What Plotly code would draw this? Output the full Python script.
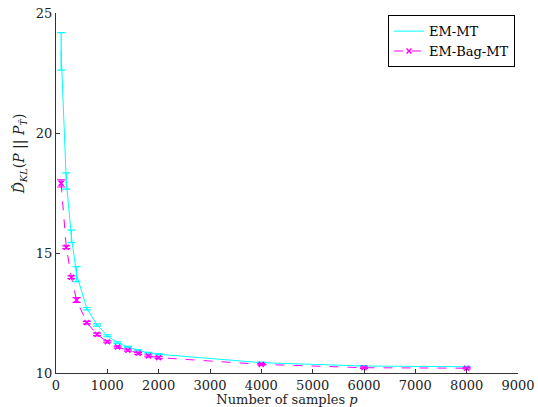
import plotly.graph_objects as go

samples = [100, 200, 300, 400, 600, 800, 1000, 1200, 1400, 1600, 1800, 2000, 4000, 6000, 8000]
em_mt = [23.4, 18.0, 15.69, 14.12, 12.68, 12.0, 11.55, 11.26, 11.08, 10.95, 10.83, 10.78, 10.43, 10.29, 10.26]
em_mt_err = [0.78, 0.34, 0.26, 0.31, 0.05, 0.05, 0.04, 0.04, 0.03, 0.03, 0.03, 0.03, 0.02, 0.02, 0.02]
em_bag_mt = [17.9, 15.24, 13.99, 13.04, 12.1, 11.61, 11.30, 11.08, 10.95, 10.82, 10.71, 10.64, 10.36, 10.22, 10.2]
em_bag_mt_err = [0.15, 0.06, 0.06, 0.1, 0.05, 0.05, 0.04, 0.04, 0.04, 0.04, 0.04, 0.04, 0.03, 0.03, 0.03]
x_ticks = [0, 1000, 2000, 3000, 4000, 5000, 6000, 7000, 8000, 9000]
y_ticks = [10, 15, 20, 25]

font = "DejaVu Serif"
fig = go.Figure()
fig.add_trace(go.Scatter(
    x=samples, y=em_mt, name="EM-MT", mode="lines",
    line=dict(color="#00FFFF", width=1),
    error_y=dict(type="data", array=em_mt_err, color="#00FFFF", thickness=1.2, width=4),
))
fig.add_trace(go.Scatter(
    x=samples, y=em_bag_mt, name="EM-Bag-MT", mode="lines+markers",
    line=dict(color="#FF00FF", width=1, dash="dash"),
    marker=dict(symbol="x-thin", size=5, color="#FF00FF", line=dict(color="#FF00FF", width=1.5)),
    error_y=dict(type="data", array=em_bag_mt_err, color="#FF00FF", thickness=1.2, width=4),
))

fig.update_layout(
    width=538, height=407,
    margin=dict(l=56, r=20, t=13, b=34, autoexpand=False),
    paper_bgcolor="white", plot_bgcolor="white",
    font=dict(family=font, size=13, color="#222"),
    showlegend=True,
    legend=dict(x=0.9935, y=0.994, xanchor="right", yanchor="top",
                bordercolor="black", borderwidth=1, bgcolor="white",
                font=dict(family=font, size=13, color="black"),
                tracegroupgap=0, itemwidth=30),
    xaxis=dict(range=[0, 9000], tickvals=x_ticks, ticks="inside", ticklen=4,
               showgrid=False, zeroline=False, showline=True, linecolor="#333",
               linewidth=1, tickcolor="#333", automargin=False,
               tickfont=dict(family=font, size=13),
               title=dict(text="Number of samples <i>p</i>", standoff=6,
                          font=dict(family=font, size=13))),
    yaxis=dict(range=[10, 25], tickvals=y_ticks, ticks="inside", ticklen=4,
               showgrid=False, zeroline=False, showline=True, linecolor="#333",
               linewidth=1, tickcolor="#333", automargin=False,
               tickfont=dict(family=font, size=13)),
)
fig.add_annotation(
    text="<i>D̂</i><sub><i>KL</i></sub>(<i>P</i> || <i>P</i><sub><i>T̂</i></sub>)",
    xref="paper", yref="paper", x=-0.078, y=0.61, textangle=-90,
    showarrow=False, font=dict(family=font, size=14, color="#222"),
    xanchor="center", yanchor="middle",
)
fig.write_html("out.html", config={"displayModeBar": False},
               post_script="document.body.style.margin='0';")
